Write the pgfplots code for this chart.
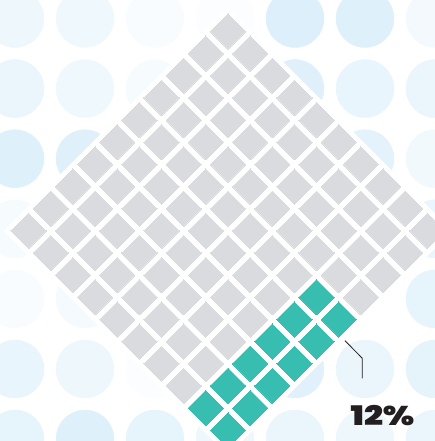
\documentclass[border=0pt]{standalone}
\usepackage{pgfplots}
\pgfplotsset{compat=1.18}
\usepackage{fontspec}
\newfontfamily\pop{Poppins Black}
\definecolor{wgray}{RGB}{218,219,222}
\definecolor{wteal}{RGB}{55,190,176}
\definecolor{ink}{RGB}{35,31,32}
\begin{document}
\begin{tikzpicture}
\begin{axis}[
  width=435pt, height=441pt, scale only axis,
  at={(0,0)}, anchor=south west,
  xmin=0, xmax=435, ymin=0, ymax=441,
  y dir=reverse,
  hide axis,
  set layers,
  colormap={dots}{rgb255=(255,255,255) rgb255=(220,239,250)},
  point meta min=0, point meta max=1,
]
% background dots: x y shade
\addplot[scatter, only marks, mark=*, mark size=29pt,
  scatter/use mapped color={draw=mapped color, fill=mapped color},
  point meta=explicit]
  table[meta=v, row sep=\\] {
  x y v\\
  15 18.5 0.5\\ 85 18.5 0.45\\ 155 18.5 0.2\\ 225 18.5 0.1\\ 295 18.5 1\\ 365 18.5 0.95\\ 435 18.5 0.35\\
  15 88.6 0.6\\ 85 88.6 0.45\\ 155 88.6 0.25\\ 295 88.6 0.9\\ 365 88.6 0.65\\ 435 88.6 0.6\\
  15 158.7 0.95\\ 85 158.7 0.9\\ 365 158.7 0.8\\ 435 158.7 0.4\\
  15 228.8 0.25\\ 435 228.8 0.6\\
  15 298.9 0.2\\ 85 298.9 0.3\\ 435 298.9 0.7\\
  15 369 0.65\\ 85 369 0.5\\ 155 369 0.1\\ 295 369 0.85\\ 365 369 0.6\\ 435 369 0.75\\
  15 439 0.7\\ 85 439 0.95\\ 155 439 0.7\\ 225 439 0.5\\ 295 439 0.6\\ 365 439 0.5\\ 435 439 0.6\\
  };
% white halo behind the waffle
\addplot[only marks, mark=square*, mark size=158.3pt,
  mark options={rotate=45, fill=white, draw=white, line width=0pt}]
  coordinates {(228,230.85)};
% waffle: a = down-right index, b = down-left index
\addplot[only marks, mark=square*, mark size=12.5pt,
  mark options={rotate=45, fill=wgray, draw=wgray, line width=0pt}]
  table[x expr={228+(\thisrow{a}-\thisrow{b})*22.15},
        y expr={31.5+(\thisrow{a}+\thisrow{b})*22.15}, row sep=\\] {
  a b\\
  0 0\\ 0 1\\ 0 2\\ 0 3\\ 0 4\\ 0 5\\ 0 6\\ 0 7\\ 0 8\\ 0 9\\
  1 0\\ 1 1\\ 1 2\\ 1 3\\ 1 4\\ 1 5\\ 1 6\\ 1 7\\ 1 8\\ 1 9\\
  2 0\\ 2 1\\ 2 2\\ 2 3\\ 2 4\\ 2 5\\ 2 6\\ 2 7\\ 2 8\\ 2 9\\
  3 0\\ 3 1\\ 3 2\\ 3 3\\ 3 4\\ 3 5\\ 3 6\\ 3 7\\ 3 8\\ 3 9\\
  4 0\\ 4 1\\ 4 2\\ 4 3\\ 4 4\\ 4 5\\ 4 6\\ 4 7\\ 4 8\\ 4 9\\
  5 0\\ 5 1\\ 5 2\\ 5 3\\ 5 4\\ 5 5\\ 5 6\\ 5 7\\ 5 8\\ 5 9\\
  6 0\\ 6 1\\ 6 2\\ 6 3\\ 6 4\\ 6 5\\ 6 6\\ 6 7\\ 6 8\\ 6 9\\
  7 0\\ 7 1\\ 7 2\\ 7 3\\ 7 4\\ 7 5\\ 7 6\\ 7 7\\ 7 8\\ 7 9\\
  8 0\\ 8 1\\ 8 2\\ 8 3\\
  9 0\\ 9 1\\ 9 2\\ 9 3\\
  };
% the 12% share
\addplot[only marks, mark=square*, mark size=12.5pt,
  mark options={rotate=45, fill=wteal, draw=wteal, line width=0pt}]
  table[x expr={228+(\thisrow{a}-\thisrow{b})*22.15},
        y expr={31.5+(\thisrow{a}+\thisrow{b})*22.15}, row sep=\\] {
  a b\\
  8 4\\ 8 5\\ 8 6\\ 8 7\\ 8 8\\ 8 9\\
  9 4\\ 9 5\\ 9 6\\ 9 7\\ 9 8\\ 9 9\\
  };
% leader line and label
\addplot[on layer=axis foreground, draw=ink, line width=0.8pt]
  coordinates {(345,340.7) (362.3,358.3) (362.3,378.3)};
\begin{pgfonlayer}{axis foreground}
\node[anchor=base, text=ink, inner sep=0pt] at (axis cs:382.5,425)
  {\scalebox{1.24}[1]{\pop\fontsize{27}{30}\selectfont 12\%}};
\end{pgfonlayer}
\end{axis}
\pgfresetboundingbox
\useasboundingbox (0,0) rectangle (435pt,441pt);
\end{tikzpicture}
\end{document}
